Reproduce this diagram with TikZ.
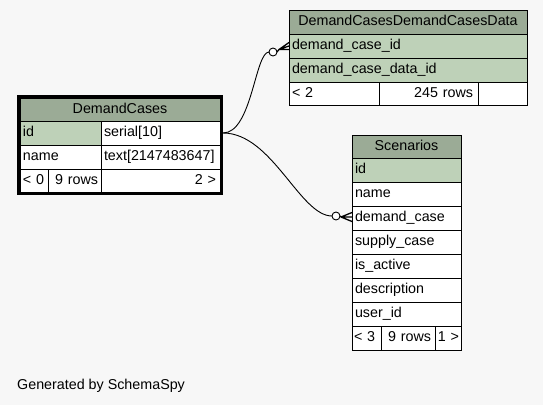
\documentclass[tikz,border=0pt]{standalone}
\usepackage{fontspec}
\newfontfamily\tabfont{Liberation Sans}
\definecolor{bgc}{HTML}{F7F7F7}
\definecolor{headbg}{HTML}{9BAB96}
\definecolor{keybg}{HTML}{BED1B8}
\tikzset{
  cell/.style={draw=black, line width=1pt, inner sep=0pt, outer sep=0pt, anchor=north west,
    font=\tabfont\fontsize{14.3}{16}\selectfont, text height=10.5pt, text depth=3pt, fill=white},
  cw/.code 2 args={\pgfmathsetlengthmacro\cellw{#1}\pgfmathsetlengthmacro\celltw{#1-2*#2}%
    \edef\tmpcw{\noexpand\pgfkeysalso{minimum width=\cellw, text width=\celltw}}\tmpcw},
  L/.style={align=left}, R/.style={align=right}, C/.style={align=center},
  hrow/.style={minimum height=23pt}, row/.style={minimum height=24pt},
  key/.style={fill=keybg}, head/.style={fill=headbg, C},
  edge/.style={draw=black, line width=0.9pt},
  zero/.style={circle, draw=black, fill=white, line width=0.9pt, minimum size=8pt, inner sep=0pt, outer sep=0pt},
  crow/.style={draw=black, line width=1.3pt},
}
\begin{document}
\begin{tikzpicture}[x=1pt,y=-1pt]
\fill[bgc] (0,0) rectangle (543,405);
\useasboundingbox (0,0) rectangle (543,405);

% DemandCases
\node[cell, cw={200}{3}, head, hrow] (dcH) at (20,98) {DemandCases};
\node[cell, cw={81}{3}, L, row, key] (dcIdN) at (20,121) {id};
\node[cell, cw={119}{3}, L, row] (dcIdT) at (101,121) {serial[10]};
\node[cell, cw={81}{3}, L, row] (dcNameN) at (20,145) {name};
\node[cell, cw={119}{3}, L, row] (dcNameT) at (101,145) {text[2147483647]};
\node[cell, cw={28}{3}, L, hrow] (dcF1) at (20,169) {< 0};
\node[cell, cw={53}{3}, R, hrow] (dcF2) at (48,169) {9 rows};
\node[cell, cw={119}{4}, R, hrow] (dcF3) at (101,169) {2 >};
\draw[line width=3pt] (18.5,96.5) rectangle (221.5,193.5);

% DemandCasesDemandCasesData
\node[cell, cw={238}{3}, head, row] (ddH) at (289,10) {DemandCasesDemandCasesData};
\node[cell, cw={238}{3}, L, row, key] (ddR1) at (289,34) {demand\_case\_id};
\node[cell, cw={238}{3}, L, row, key] (ddR2) at (289,58) {demand\_case\_data\_id};
\node[cell, cw={90}{3}, L, hrow] (ddF1) at (289,82) {< 2};
\node[cell, cw={99}{5}, R, hrow] (ddF2) at (379,82) {245 rows};
\node[cell, cw={49}{3}, R, hrow] (ddF3) at (478,82) {};

% Scenarios
\node[cell, cw={109}{3}, head, hrow] (scH) at (352,135) {Scenarios};
\node[cell, cw={109}{3}, L, row, key] (scId) at (352,158) {id};
\node[cell, cw={109}{3}, L, row] (scName) at (352,182) {name};
\node[cell, cw={109}{3}, L, row] (scDem) at (352,206) {demand\_case};
\node[cell, cw={109}{3}, L, row] (scSup) at (352,230) {supply\_case};
\node[cell, cw={109}{3}, L, row] (scAct) at (352,254) {is\_active};
\node[cell, cw={109}{3}, L, row] (scDesc) at (352,278) {description};
\node[cell, cw={109}{3}, L, row] (scUser) at (352,302) {user\_id};
\node[cell, cw={29}{2}, L, row] (scF1) at (352,326) {< 3};
\node[cell, cw={54}{4}, R, row] (scF2) at (381,326) {9 rows};
\node[cell, cw={26}{2}, R, row] (scF3) at (435,326) {1 >};

% connectors
\coordinate (dcOut) at (223,133);
\node[zero] (z1) at (273,52) {};
\node[zero] (z2) at (336,216) {};
\draw[edge] (dcOut) .. controls (252,133) and (255,52) .. (z1.west);
\draw[edge] (dcOut) .. controls (272,133) and (300,216) .. (z2.west);
\coordinate (t1) at (279,49.5);
\coordinate (t1a) at (289,42.5);
\coordinate (t1b) at (289,46);
\coordinate (t1c) at (289,49.5);
\draw[crow] (z1.east) -- (t1) (t1) -- (t1a) (t1) -- (t1b) (t1) -- (t1c);
\coordinate (t2) at (341,217);
\coordinate (t2a) at (352,212.5);
\coordinate (t2b) at (352,217);
\coordinate (t2c) at (352,221.5);
\draw[crow] (z2.east) -- (t2) (t2) -- (t2a) (t2) -- (t2b) (t2) -- (t2c);

\node[anchor=base west, inner sep=0pt, font=\tabfont\fontsize{14.3}{16}\selectfont] (gen) at (17,389) {Generated by SchemaSpy};
\end{tikzpicture}
\end{document}
